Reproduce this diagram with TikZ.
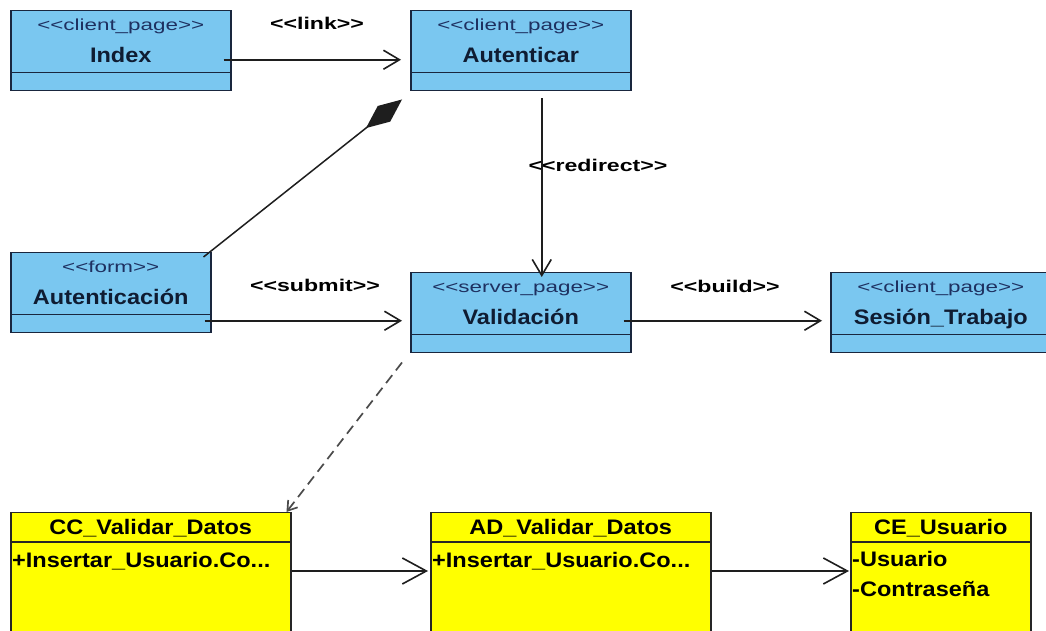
\documentclass[tikz,border=0pt]{standalone}
\usepackage{fontspec}
\setmainfont{Liberation Sans}
\newfontfamily\stereofont[FakeStretch=1.4]{Liberation Sans}
\newfontfamily\namefont[FakeStretch=1.12]{Liberation Sans}
\newfontfamily\labelfont[FakeStretch=1.36]{Liberation Sans}
\usepackage{tikz}
\usetikzlibrary{arrows.meta,
                positioning}

\definecolor{pageblue}{RGB}{122,199,240}
\definecolor{boxline}{RGB}{25,38,62}
\definecolor{stereoink}{RGB}{30,48,96}
\definecolor{nameink}{RGB}{15,28,50}
\definecolor{classyellow}{RGB}{255,255,0}
\definecolor{wireink}{RGB}{30,30,30}

\tikzset{
  pagebox/.style={draw=boxline, line width=1.5pt, fill=pageblue,
                  minimum height=80pt, inner sep=0pt, anchor=north west},
  classbox/.style={draw=black!85, line width=1.5pt, fill=classyellow,
                   minimum height=130pt, inner sep=0pt, anchor=north west},
  stereo/.style={font=\stereofont\fontsize{16}{18}\selectfont,
                 text=stereoink, anchor=base, inner sep=0pt},
  pagename/.style={font=\namefont\bfseries\fontsize{21}{24}\selectfont,
                   text=nameink, anchor=base, inner sep=0pt},
  member/.style={font=\namefont\bfseries\fontsize{21}{24}\selectfont,
                 anchor=base west, inner sep=0pt},
  conlabel/.style={font=\labelfont\bfseries\fontsize{17}{19}\selectfont,
                   anchor=base, inner sep=0pt},
  link/.style={draw=wireink, line width=1.6pt,
               -{Straight Barb[length=16pt,width=19pt]}},
  biglink/.style={draw=wireink, line width=1.6pt,
                  -{Straight Barb[length=24pt,width=26pt]}},
  uses/.style={draw=wireink!80, line width=1.7pt, dash pattern=on 10pt off 6pt,
               -{Straight Barb[length=9pt,width=12pt]}},
  owns/.style={draw=wireink, line width=1.5pt,
               -{Diamond[length=46pt,width=20pt]}}
}

\begin{document}
\begin{tikzpicture}[x=1pt, y=1pt]
\useasboundingbox (0,0) rectangle (1046,631);
\fill[white] (0,0) rectangle (1046,631);
\clip (0,0) rectangle (1046,631);

% web pages
\foreach \nm/\x/\y/\w/\st/\ti in {
    index/10/621/220/client\_page/Index,
    autenticar/410/621/220/client\_page/Autenticar,
    autenticacion/10/379/200/form/Autenticación,
    validacion/410/359/220/server\_page/Validación,
    sesion/830/359/220/client\_page/Sesión\_Trabajo}
{
  \node[pagebox, minimum width=\w pt] (\nm) at (\x,\y) {};
  \draw[boxline, line width=1.5pt] ([yshift=19pt]\nm.south west) -- ([yshift=19pt]\nm.south east);
  \node[stereo] (\nm-st) at ([yshift=-21pt]\nm.north) {<{}<\st>{}>};
  \node[pagename] (\nm-nm) at ([yshift=-53pt]\nm.north) {\ti};
}

% classes
\foreach \nm/\x/\w/\ti in {
    cc/10/280/CC\_Validar\_Datos,
    ad/430/280/AD\_Validar\_Datos,
    ce/850/180/CE\_Usuario}
{
  \node[classbox, minimum width=\w pt] (\nm) at (\x,119) {};
  \draw[black!85, line width=1.5pt] ([yshift=-30pt]\nm.north west) -- ([yshift=-30pt]\nm.north east);
  \node[pagename, text=black] (\nm-nm) at ([yshift=-23pt]\nm.north) {\ti};
}
\node[member] (cc-op) at ([shift={(2,-56)}]cc.north west) {+Insertar\_Usuario.Co...};
\node[member] (ad-op) at ([shift={(2,-56)}]ad.north west) {+Insertar\_Usuario.Co...};
\node[member] (ce-usr) at ([shift={(2,-55)}]ce.north west) {-Usuario};
\node[member] (ce-pwd) at ([shift={(2,-85)}]ce.north west) {-Contraseña};

% connectors
\draw[link] ([shift={(-8,-9)}]index.east) -- ([shift={(-9,-9)}]autenticar.west);
\draw[link] ([shift={(21,-7)}]autenticar.south) -- ([shift={(21,-5)}]validacion.north);
\draw[link] ([shift={(-7,-28)}]autenticacion.east) -- ([shift={(-8,-8)}]validacion.west);
\draw[link] ([shift={(-8,-8)}]validacion.east) -- ([shift={(-8,-8)}]sesion.west);
\draw[owns] ([shift={(-8,-5)}]autenticacion.north east) -- ([shift={(-8,-8)}]autenticar.south west);
\draw[uses] ([shift={(-8,-9)}]validacion.south west) -- ([shift={(-5,0)}]cc.north east);
\draw[biglink] ([yshift=-59pt]cc.north east) -- ([shift={(-2,-59)}]ad.north west);
\draw[biglink] ([yshift=-59pt]ad.north east) -- ([shift={(-1,-59)}]ce.north west);

\node[conlabel] (lbl-link) at (317,601) {<{}<link>{}>};
\node[conlabel] (lbl-submit) at (315,339) {<{}<submit>{}>};
\node[conlabel] (lbl-build) at (725,338) {<{}<build>{}>};
\node[conlabel] (lbl-redirect) at (598,459) {<{}<redirect>{}>};
\end{tikzpicture}
\end{document}
